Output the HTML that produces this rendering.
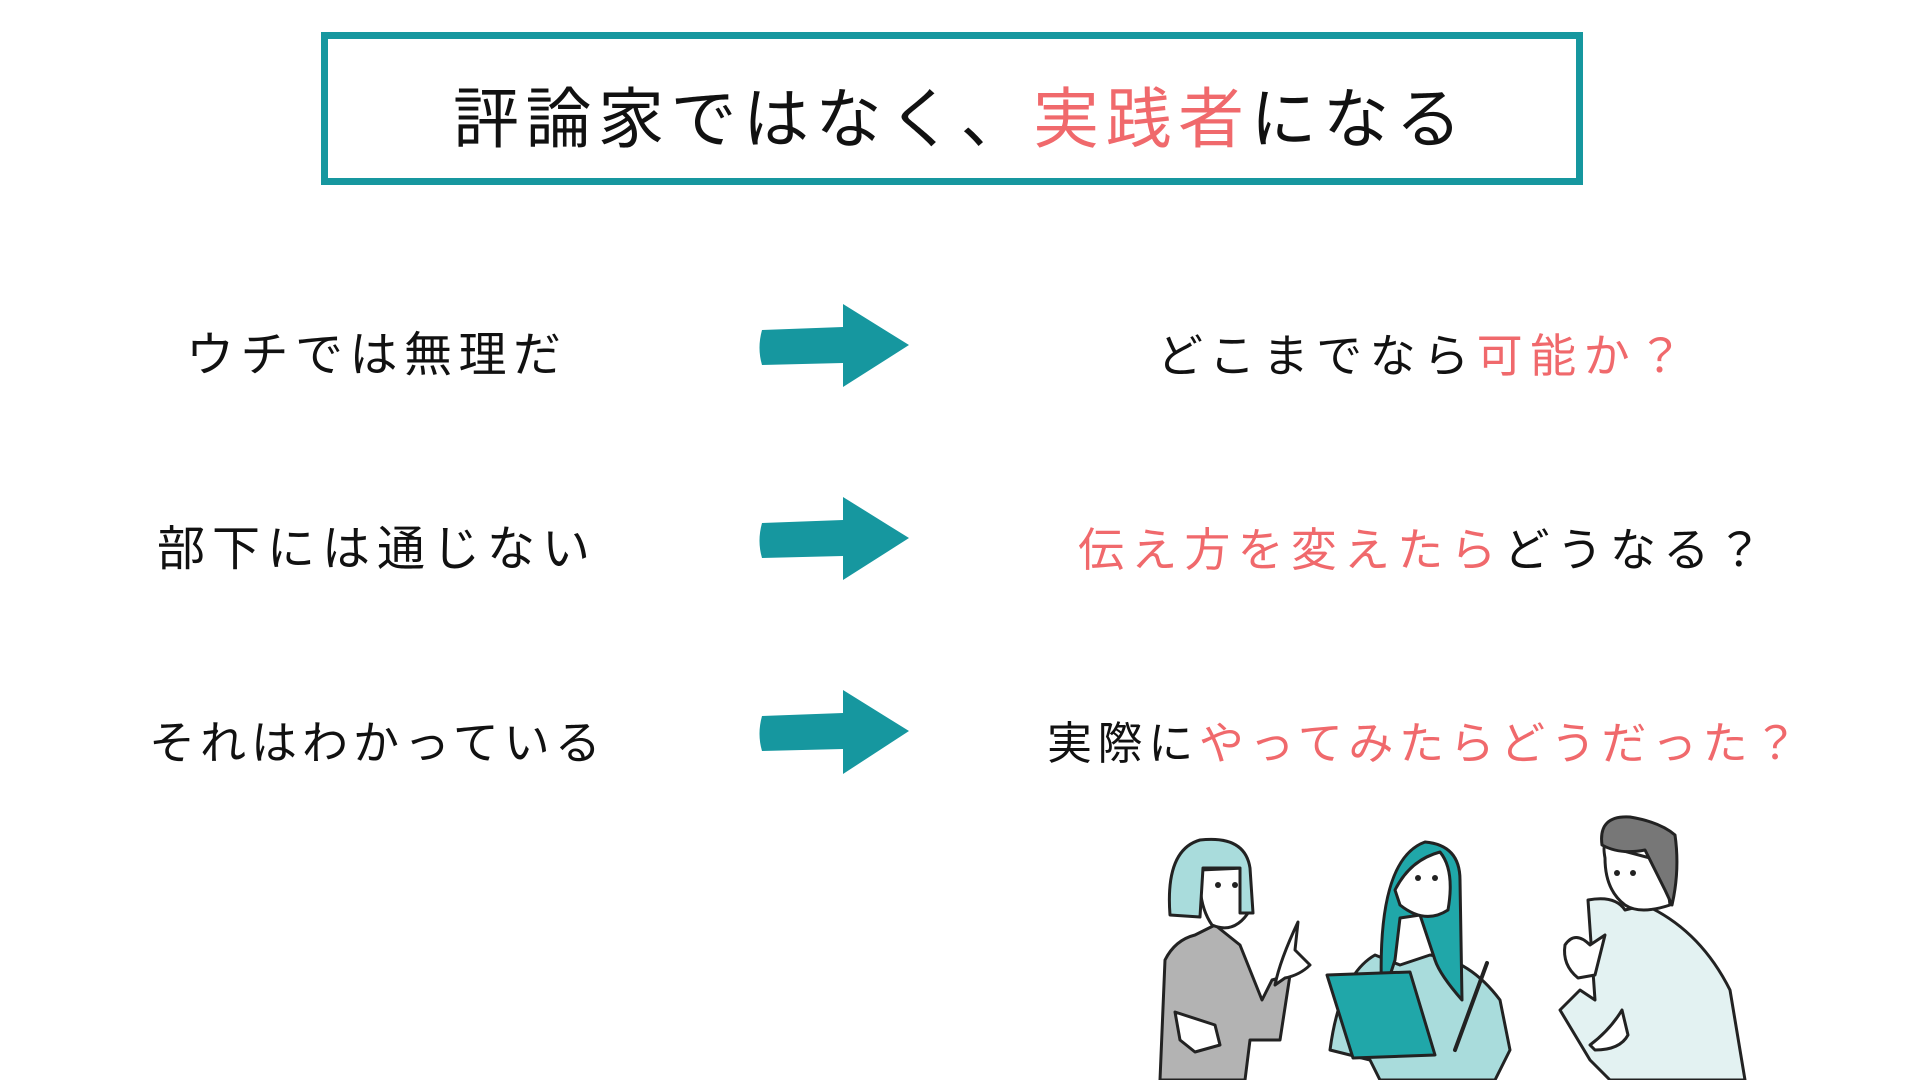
<!DOCTYPE html>
<html><head><meta charset="utf-8"><style>
html,body{margin:0;padding:0;background:#fff;width:1920px;height:1080px;overflow:hidden;position:relative}
.t{position:absolute;font-family:"Liberation Sans","Noto Sans CJK JP",sans-serif;white-space:nowrap;color:#111;line-height:1}
.p{color:#f0696c}
</style></head><body>
<div style="position:absolute;left:321px;top:32px;width:1248px;height:139px;border:7px solid #16979f"></div>
<div class="t" style="left:453px;top:86px;font-size:66px;letter-spacing:6.5px">評論家ではなく、<span class="p">実践者</span>になる</div>

<div class="t" style="left:186px;top:332px;font-size:48px;letter-spacing:6.5px">ウチでは無理だ</div>
<div class="t" style="left:157px;top:526px;font-size:48px;letter-spacing:7px">部下には通じない</div>
<div class="t" style="left:149px;top:720px;font-size:46px;letter-spacing:5px">それはわかっている</div>

<div class="t" style="left:1157px;top:333px;font-size:46px;letter-spacing:7.5px">どこまでなら<span class="p">可能か？</span></div>
<div class="t" style="left:1078px;top:527px;font-size:46px;letter-spacing:7.2px"><span class="p">伝え方を変えたら</span>どうなる？</div>
<div class="t" style="left:1047px;top:721px;font-size:45px;letter-spacing:5.6px">実際に<span class="p">やってみたらどうだった？</span></div>

<svg width="1920" height="1080" style="position:absolute;left:0;top:0">
<g fill="#16979f">
<path d="M762 330 L843 327 L843 304 L909 345 L843 387 L843 363 L762 365 Q757 348 762 330Z"/>
<path d="M762 523 L843 520 L843 497 L909 538 L843 580 L843 556 L762 558 Q757 541 762 523Z"/>
<path d="M762 716 L843 713 L843 690 L909 731 L843 774 L843 749 L762 751 Q757 734 762 716Z"/>
</g>
<g stroke="#222" stroke-width="3" stroke-linejoin="round" stroke-linecap="round">
<path d="M1160 1080 L1165 960 Q1175 940 1195 935 L1215 925 L1240 945 L1262 1000 L1272 980 L1290 975 L1280 1040 L1250 1040 L1245 1080Z" fill="#b3b3b3"/>
<path d="M1200 870 L1245 868 L1250 910 Q1235 935 1212 925 Q1198 905 1200 870Z" fill="#fff"/>
<path d="M1170 915 Q1165 850 1200 840 Q1245 835 1250 868 L1253 913 L1240 913 L1240 868 L1203 868 L1200 917Z" fill="#a9dcdc"/>
<path d="M1275 985 Q1280 960 1298 922 L1295 950 L1310 965 Q1300 975 1285 978Z" fill="#fff"/>
<path d="M1175 1012 L1215 1025 L1220 1045 L1195 1052 L1180 1040Z" fill="#fff"/>
<path d="M1330 1050 Q1340 975 1375 955 L1400 965 L1430 955 Q1470 960 1500 1000 L1510 1050 L1495 1080 L1380 1080 L1370 1060Z" fill="#a9dcdc"/>
<path d="M1382 1000 Q1375 860 1425 842 Q1460 845 1460 880 L1462 1000 Q1440 975 1435 960 L1420 915 L1400 918 L1395 960Z" fill="#20a7a9"/>
<path d="M1395 890 Q1410 860 1440 852 Q1455 870 1448 910 Q1425 925 1400 905Z" fill="#fff"/>
<path d="M1327 975 L1410 972 L1435 1055 L1353 1058Z" fill="#20a7a9"/>
<path d="M1455 1050 L1487 963" stroke-width="4"/>
<path d="M1588 900 Q1615 895 1625 910 L1645 905 Q1700 930 1730 990 L1745 1080 L1610 1080 L1590 1060 L1560 1010 L1580 990 L1595 1000Z" fill="#e3f2f2"/>
<path d="M1605 858 Q1600 830 1620 850 L1665 862 L1670 905 Q1640 915 1625 905 Q1605 890 1605 858Z" fill="#fff"/>
<path d="M1602 845 Q1598 815 1630 817 Q1660 822 1675 835 Q1680 870 1672 905 L1665 890 L1655 870 L1645 850 Q1620 855 1602 845Z" fill="#777"/>
<path d="M1565 945 Q1575 930 1590 945 L1605 935 L1595 975 L1578 978 Q1562 965 1565 945Z" fill="#fff"/>
<path d="M1590 1045 Q1610 1030 1622 1010 L1628 1035 Q1620 1050 1595 1050Z" fill="#fff"/>
</g>
<g fill="#222">
<circle cx="1218" cy="885" r="3"/><circle cx="1235" cy="885" r="3"/>
<circle cx="1418" cy="878" r="3"/><circle cx="1435" cy="878" r="3"/>
<circle cx="1617" cy="873" r="3"/><circle cx="1633" cy="873" r="3"/>
</g>
</svg>
</body></html>
